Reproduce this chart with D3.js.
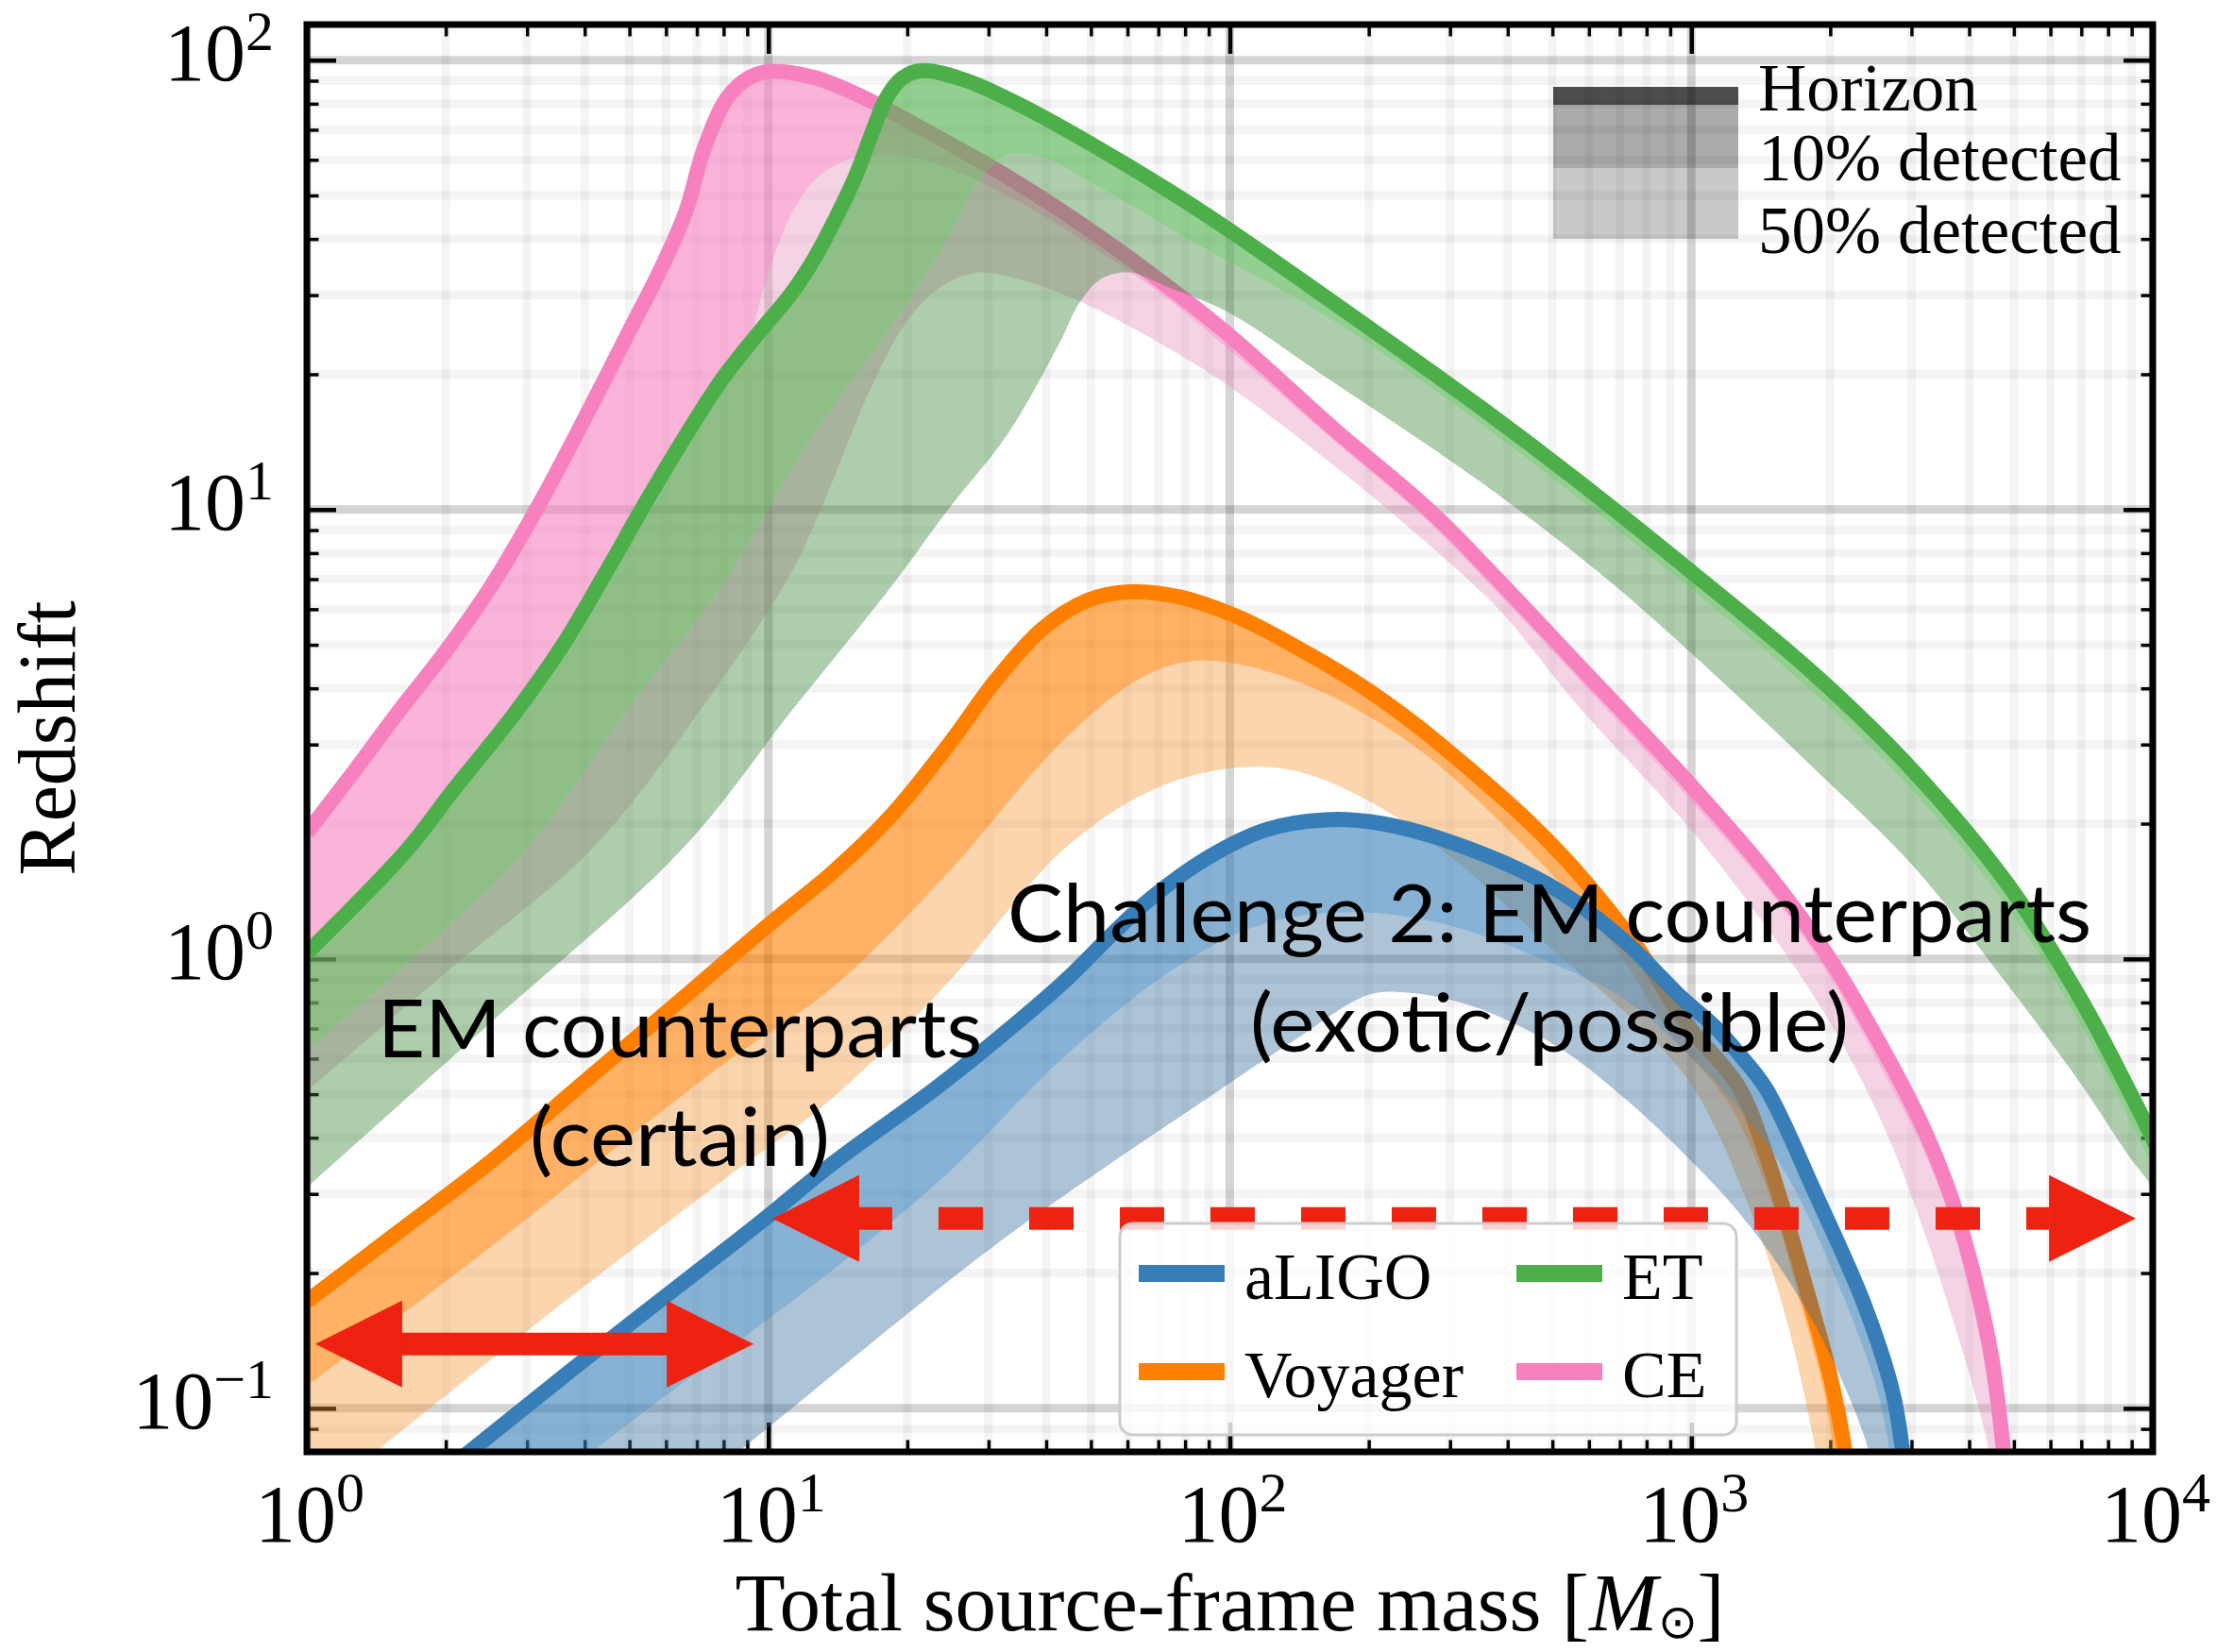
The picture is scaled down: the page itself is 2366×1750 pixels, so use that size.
<!DOCTYPE html>
<html>
<head>
<meta charset="utf-8">
<script src="https://cdnjs.cloudflare.com/ajax/libs/d3/7.8.5/d3.min.js"></script>
<style>
  body { margin: 0; background: #fff; }
  svg { display: block; }
</style>
</head>
<body>
<svg id="chart"></svg>
<script>
const width = 2366;
const height = 1750;
const plotLeft = 325, plotRight = 2280, plotTop = 26, plotBottom = 1538;

// [total source-frame mass, redshift]
const ceHorizon = [[1,1.91],[1.26,2.6],[1.58,3.55],[2.0,4.84],[2.51,6.76],[3.16,10.1],[3.98,15.8],[5.01,25.1],[5.75,33.1],[6.61,45.7],[7.24,63.1],[8.13,82.2],[9.12,91.6],[10.1,94.4],[12.5,91.6],[16,82.8],[22.6,68.5],[32.5,55.5],[46.6,43.8],[66.8,33.7],[98.9,24.6],[167,15.2],[271,9.95],[372,7.16],[560,4.59],[993,2.45],[1462,1.55],[1995,1.0],[2630,0.617],[3228,0.408],[3733,0.277],[4406,0.142],[4753,0.08],[5012,0.045]];
const ceZ10 = [[1,0.977],[1.65,1.66],[2.08,2.26],[2.78,3.27],[3.58,4.73],[4.44,6.84],[5.43,9.89],[6.62,14.5],[8.22,20.0],[9.12,24.0],[9.68,30.1],[10.4,37.7],[11.2,45.2],[12.5,53.6],[14.4,59.3],[16.6,61.1],[20,61],[25.1,56.9],[35.5,47.9],[50.1,38.5],[70.8,30.2],[100,22.6],[167,14.3],[271,9.33],[372,6.68],[560,4.27],[993,2.26],[1462,1.43],[1995,0.912],[2630,0.55],[3228,0.363],[3733,0.24],[4406,0.112],[4677,0.063],[4898,0.04]];
const ceZ50 = [[1,0.508],[2.0,0.933],[4.13,1.75],[7.08,3.55],[11.2,7.23],[13.5,11.0],[16.5,18.2],[20,26.3],[24,31.6],[28.6,33.7],[35.5,32.4],[47.4,29.0],[70.8,23.4],[98.9,18.9],[167,12.6],[271,8.32],[389,5.89],[560,3.72],[993,1.95],[1462,1.17],[1995,0.724],[2630,0.417],[3228,0.24],[3733,0.151],[4074,0.112],[4416,0.0794],[4677,0.0398]];

const etHorizon = [[1,1.03],[1.65,1.75],[2.08,2.38],[2.78,3.45],[3.58,4.98],[4.44,7.23],[5.43,10.4],[6.62,14.6],[7.94,19.5],[9.55,24.8],[11.2,30.2],[12.6,36.3],[14.1,45.2],[15.5,55.6],[16.8,69.2],[18.0,82.2],[19.5,91.2],[21.5,94.8],[27,89.9],[35.6,78.9],[50.9,64.4],[73.1,51.5],[98.9,42.1],[200,25.4],[346,17.0],[560,11.7],[971,7.45],[1862,4.27],[3006,2.64],[4864,1.46],[7000,0.809],[8892,0.508],[10000,0.398],[11220,0.302]];
const etZ10 = [[1,0.622],[1.78,1.05],[2.99,1.75],[5.01,3.63],[7.94,6.76],[10,10],[12.5,14.7],[14.8,18.6],[17.3,23.3],[20.9,30.9],[24.7,40.7],[28.1,52.5],[30.9,58.9],[33.9,61.7],[39.8,60.3],[50.4,53.1],[81.5,39.8],[167,26.3],[406,13.8],[948,6.92],[1862,3.85],[3006,2.37],[4864,1.29],[7000,0.708],[8892,0.437],[10000,0.339],[11220,0.251]];
const etZ50 = [[1,0.31],[2.51,0.724],[6.49,1.75],[11.2,3.55],[18.5,6.76],[24.7,10.1],[33,14.7],[42.6,23.3],[47.4,29],[52.8,32.7],[60.8,33.7],[73.1,31.3],[98.9,27.5],[158,20],[346,11.6],[631,7.24],[1000,4.79],[1862,2.63],[3006,1.62],[4864,0.871],[7000,0.525],[8892,0.363],[10000,0.309],[11220,0.24]];

const voyagerHorizon = [[1,0.173],[1.58,0.247],[2.51,0.355],[3.98,0.531],[6.31,0.794],[10.4,1.23],[13.8,1.56],[18.5,2.09],[24.6,3.0],[31,4.15],[39.1,5.41],[49.2,6.28],[60.3,6.56],[78.2,6.38],[104,5.77],[139,4.95],[186,4.15],[248,3.37],[330,2.65],[440,2.04],[560,1.58],[764,1.06],[971,0.723],[1265,0.52],[1462,0.359],[1774,0.185],[1995,0.119],[2153,0.08],[2291,0.0447]];
const voyagerZ10 = [[1,0.112],[2.51,0.229],[7.76,0.57],[13.8,0.865],[24.6,1.56],[43.8,3.08],[65.6,4.27],[87.5,4.61],[139,4.15],[248,3.0],[440,1.76],[679,1.07],[891,0.692],[1202,0.479],[1445,0.316],[1738,0.166],[1950,0.105],[2089,0.063],[2188,0.04]];
const voyagerZ50 = [[1,0.0603],[3.16,0.155],[7.76,0.315],[13.8,0.491],[24.6,0.891],[43.8,1.76],[67.5,2.37],[98.4,2.65],[139,2.62],[214,2.16],[330,1.56],[509,1.03],[714,0.766],[1000,0.525],[1330,0.283],[1585,0.166],[1862,0.08],[1995,0.05]];

const aligoHorizon = [[1.58,0.0603],[2.25,0.08],[4.37,0.138],[9.77,0.263],[13.8,0.351],[22.9,0.513],[31.6,0.668],[43.8,0.891],[56.2,1.148],[67.5,1.365],[90.4,1.69],[120,1.94],[161,2.04],[214,2.0],[330,1.76],[509,1.43],[714,1.10],[953,0.82],[1122,0.708],[1265,0.617],[1455,0.513],[1862,0.299],[2366,0.171],[2735,0.108],[2871,0.08],[3020,0.05]];
const aligoZ10 = [[2,0.0437],[4.37,0.0832],[7.76,0.13],[13.8,0.203],[24.6,0.335],[43.8,0.605],[78.2,0.97],[120,1.2],[186,1.27],[285,1.2],[440,1.03],[714,0.813],[1000,0.603],[1259,0.468],[1585,0.339],[1995,0.209],[2512,0.112],[2692,0.0794],[2884,0.05]];
const aligoZ50 = [[5.01,0.0525],[8.51,0.0794],[31.6,0.234],[97.5,0.52],[139,0.662],[200,0.832],[245,0.84],[330,0.789],[509,0.641],[714,0.491],[1000,0.355],[1259,0.275],[1585,0.2],[1995,0.132],[2427,0.08],[2630,0.05]];

const detectorNames = ["aLIGO", "Voyager", "ET", "CE"];
const detectorColors = ["#377eb8", "#ff7f00", "#4daf4a", "#f781bf"];
const lightFills = ["rgba(50,105,152,0.4)", "rgba(242,150,52,0.4)", "rgba(52,130,50,0.4)", "rgba(227,147,187,0.4)"];

const xTickValues = [1, 10, 100, 1000, 10000];
const xTickExponents = ["0", "1", "2", "3", "4"];
const yTickValues = [0.1, 1, 10, 100];
const yTickExponents = ["\u22121", "0", "1", "2"];

const bandLabels = ["Horizon", "10% detected", "50% detected"];

// annotation anchors in data coordinates [mass, redshift]
const solidArrow = [[1.043, 0.139], [9.29, 0.139]];
const dashedArrow = [[10.2, 0.2645], [9190, 0.2645]];

const serif = "'Liberation Serif', 'Times New Roman', serif";
const sans = "Lato, 'Open Sans', sans-serif";

const svg = d3.select("#chart")
              .attr("width", width)
              .attr("height", height)
              .style("background", "#fff");

const x = d3.scaleLog().domain([1, 1e4]).range([plotLeft, plotRight]);
const y = d3.scaleLog().domain([0.08, 120]).range([plotBottom, plotTop]);

const xMinor = [];
[1, 10, 100, 1000].forEach(d => { for (let k = 2; k <= 9; k++) xMinor.push(k * d); });
const yMinor = [0.08, 0.09];
[0.1, 1, 10].forEach(d => { for (let k = 2; k <= 9; k++) yMinor.push(k * d); });

svg.append("defs").append("clipPath")
   .attr("id", "plot-clip")
   .append("rect")
   .attr("x", plotLeft)
   .attr("y", plotTop)
   .attr("width", plotRight - plotLeft)
   .attr("height", plotBottom - plotTop);

// grid
const grid = svg.append("g").attr("clip-path", "url(#plot-clip)");
grid.selectAll(".vminor").data(xMinor).join("line")
    .attr("x1", d => x(d)).attr("x2", d => x(d))
    .attr("y1", plotTop).attr("y2", plotBottom)
    .attr("stroke", "rgba(0,0,0,0.045)").attr("stroke-width", 9);
grid.selectAll(".hminor").data(yMinor).join("line")
    .attr("y1", d => y(d)).attr("y2", d => y(d))
    .attr("x1", plotLeft).attr("x2", plotRight)
    .attr("stroke", "rgba(0,0,0,0.045)").attr("stroke-width", 9);
grid.selectAll(".vmajor").data(xTickValues).join("line")
    .attr("x1", d => x(d)).attr("x2", d => x(d))
    .attr("y1", plotTop).attr("y2", plotBottom)
    .attr("stroke", "rgba(0,0,0,0.17)").attr("stroke-width", 9);
grid.selectAll(".hmajor").data(yTickValues).join("line")
    .attr("y1", d => y(d)).attr("y2", d => y(d))
    .attr("x1", plotLeft).attr("x2", plotRight)
    .attr("stroke", "rgba(0,0,0,0.17)").attr("stroke-width", 9);

// inward ticks on all four sides
function ticks(axis, values, size, w, transform) {
  svg.append("g")
     .attr("transform", transform)
     .call(axis.tickValues(values).tickSizeInner(-size).tickSizeOuter(0).tickFormat(""))
     .call(g => g.select(".domain").remove())
     .call(g => g.selectAll("line").attr("stroke", "#000").attr("stroke-width", w));
}
ticks(d3.axisBottom(x), xTickValues, 31, 4.5, `translate(0,${plotBottom})`);
ticks(d3.axisBottom(x), xMinor, 12.5, 3.5, `translate(0,${plotBottom})`);
ticks(d3.axisTop(x), xTickValues, 31, 4.5, `translate(0,${plotTop})`);
ticks(d3.axisTop(x), xMinor, 12.5, 3.5, `translate(0,${plotTop})`);
ticks(d3.axisLeft(y), yTickValues, 31, 4.5, `translate(${plotLeft},0)`);
ticks(d3.axisLeft(y), yMinor, 12.5, 3.5, `translate(${plotLeft},0)`);
ticks(d3.axisRight(y), yTickValues, 31, 4.5, `translate(${plotRight},0)`);
ticks(d3.axisRight(y), yMinor, 12.5, 3.5, `translate(${plotRight},0)`);

// detector curves: 50% band, 10% band, horizon line
const line = d3.line()
               .x(d => x(d[0]))
               .y(d => y(d[1]))
               .curve(d3.curveCatmullRom.alpha(0.5));

function band(upper, lower) {
  const a = line(upper);
  const b = line(lower.slice().reverse());
  return a + "L" + b.slice(1) + "Z";
}

const series = [
  { i: 3, horizon: ceHorizon, z10: ceZ10, z50: ceZ50 },
  { i: 2, horizon: etHorizon, z10: etZ10, z50: etZ50 },
  { i: 1, horizon: voyagerHorizon, z10: voyagerZ10, z50: voyagerZ50 },
  { i: 0, horizon: aligoHorizon, z10: aligoZ10, z50: aligoZ50 }
];

const curves = svg.append("g").attr("clip-path", "url(#plot-clip)");
series.forEach(s => {
  const g = curves.append("g").attr("class", detectorNames[s.i]);
  g.append("path")
   .attr("d", band(s.z10, s.z50))
   .attr("fill", lightFills[s.i]);
  g.append("path")
   .attr("d", band(s.horizon, s.z10))
   .attr("fill", detectorColors[s.i])
   .attr("fill-opacity", 0.6);
  g.append("path")
   .attr("d", line(s.horizon))
   .attr("fill", "none")
   .attr("stroke", detectorColors[s.i])
   .attr("stroke-width", 16)
   .attr("stroke-linejoin", "round");
});

// frame
svg.append("rect")
   .attr("x", plotLeft).attr("y", plotTop)
   .attr("width", plotRight - plotLeft).attr("height", plotBottom - plotTop)
   .attr("fill", "none").attr("stroke", "#000").attr("stroke-width", 7);

// tick labels
const xLabels = svg.append("g").attr("font-family", serif).attr("font-size", 86);
xTickValues.forEach((v, i) => {
  const t = xLabels.append("text")
                   .attr("x", x(v) + 3)
                   .attr("y", 1633)
                   .attr("text-anchor", "middle");
  t.append("tspan").text("10");
  t.append("tspan").attr("dy", -32).attr("font-size", 60).text(xTickExponents[i]);
});
const yLabels = svg.append("g").attr("font-family", serif).attr("font-size", 86);
yTickValues.forEach((v, i) => {
  const t = yLabels.append("text")
                   .attr("x", 290)
                   .attr("y", y(v) + 21)
                   .attr("text-anchor", "end");
  t.append("tspan").text("10");
  t.append("tspan").attr("dy", -32).attr("font-size", 60).text(yTickExponents[i]);
});

// axis titles
const xTitle = svg.append("text")
                  .attr("x", (plotLeft + plotRight) / 2)
                  .attr("y", 1727)
                  .attr("text-anchor", "middle")
                  .attr("font-family", serif)
                  .attr("font-size", 87);
xTitle.append("tspan").text("Total source-frame mass [");
xTitle.append("tspan").attr("font-style", "italic").text("M");
xTitle.append("tspan").attr("font-size", 50).attr("dy", 8).text("\u2299");
xTitle.append("tspan").attr("dy", -8).text("]");

svg.append("text")
   .attr("transform", `translate(79,${(plotTop + plotBottom) / 2}) rotate(-90)`)
   .attr("text-anchor", "middle")
   .attr("font-family", serif)
   .attr("font-size", 86)
   .text("Redshift");

// band legend (top right)
const bandLegend = svg.append("g");
bandLegend.append("rect").attr("x", 1645).attr("y", 92).attr("width", 196).attr("height", 19).attr("fill", "rgba(0,0,0,0.7)");
bandLegend.append("rect").attr("x", 1645).attr("y", 111).attr("width", 196).attr("height", 67).attr("fill", "rgba(0,0,0,0.33)");
bandLegend.append("rect").attr("x", 1645).attr("y", 178).attr("width", 196).attr("height", 75).attr("fill", "rgba(0,0,0,0.21)");
bandLegend.selectAll("text").data(bandLabels).join("text")
          .attr("x", 1862)
          .attr("y", (d, i) => [117, 191, 268][i])
          .attr("font-family", serif)
          .attr("font-size", 71)
          .text(d => d);

// annotation arrows
const red = "#ee2211";
const head = 92, halfHead = 46;
function arrowHeads(p0, p1) {
  const x0 = x(p0[0]), x1 = x(p1[0]), yy = y(p0[1]);
  return `M${x0},${yy}L${x0 + head},${yy - halfHead}L${x0 + head},${yy + halfHead}Z` +
         `M${x1},${yy}L${x1 - head},${yy - halfHead}L${x1 - head},${yy + halfHead}Z`;
}
svg.append("path").attr("d", arrowHeads(solidArrow[0], solidArrow[1])).attr("fill", red);
svg.append("line")
   .attr("x1", x(solidArrow[0][0]) + head - 1).attr("x2", x(solidArrow[1][0]) - head + 1)
   .attr("y1", y(solidArrow[0][1])).attr("y2", y(solidArrow[1][1]))
   .attr("stroke", red).attr("stroke-width", 24);
svg.append("path").attr("d", arrowHeads(dashedArrow[0], dashedArrow[1])).attr("fill", red);
svg.append("line")
   .attr("x1", x(dashedArrow[0][0]) + head).attr("x2", x(dashedArrow[1][0]) - head)
   .attr("y1", y(dashedArrow[0][1])).attr("y2", y(dashedArrow[1][1]))
   .attr("stroke", red).attr("stroke-width", 24)
   .attr("stroke-dasharray", "47,49").attr("stroke-dashoffset", 12);

// detector legend (bottom)
const legend = svg.append("g");
legend.append("rect")
      .attr("x", 1186).attr("y", 1296).attr("width", 653).attr("height", 224)
      .attr("rx", 14)
      .attr("fill", "rgba(255,255,255,0.8)")
      .attr("stroke", "#cccccc").attr("stroke-width", 3);
const legendPos = [[1206, 1349], [1206, 1453], [1606, 1349], [1606, 1453]];
detectorNames.forEach((name, i) => {
  const [lx, ly] = legendPos[i];
  legend.append("line")
        .attr("x1", lx).attr("x2", lx + 91)
        .attr("y1", ly).attr("y2", ly)
        .attr("stroke", detectorColors[i]).attr("stroke-width", 18);
  legend.append("text")
        .attr("x", lx + 112).attr("y", ly + 27)
        .attr("font-family", serif).attr("font-size", 70)
        .text(name);
});

// annotation texts
const notes = [
  { text: "Challenge 2: EM counterparts", m: 493, z: 1.09, w: 1148 },
  { text: "(exotic/possible)", m: 493, z: 0.622, w: 634 },
  { text: "EM counterparts", m: 6.43, z: 0.605, w: 640 },
  { text: "(certain)", m: 6.43, z: 0.347, w: 318 }
];
svg.append("g").selectAll("text").data(notes).join("text")
   .attr("x", d => x(d.m))
   .attr("y", d => y(d.z))
   .attr("text-anchor", "middle")
   .attr("font-family", sans)
   .attr("font-size", 86)
   .attr("textLength", d => d.w)
   .attr("lengthAdjust", "spacingAndGlyphs")
   .text(d => d.text);
</script>
</body>
</html>
